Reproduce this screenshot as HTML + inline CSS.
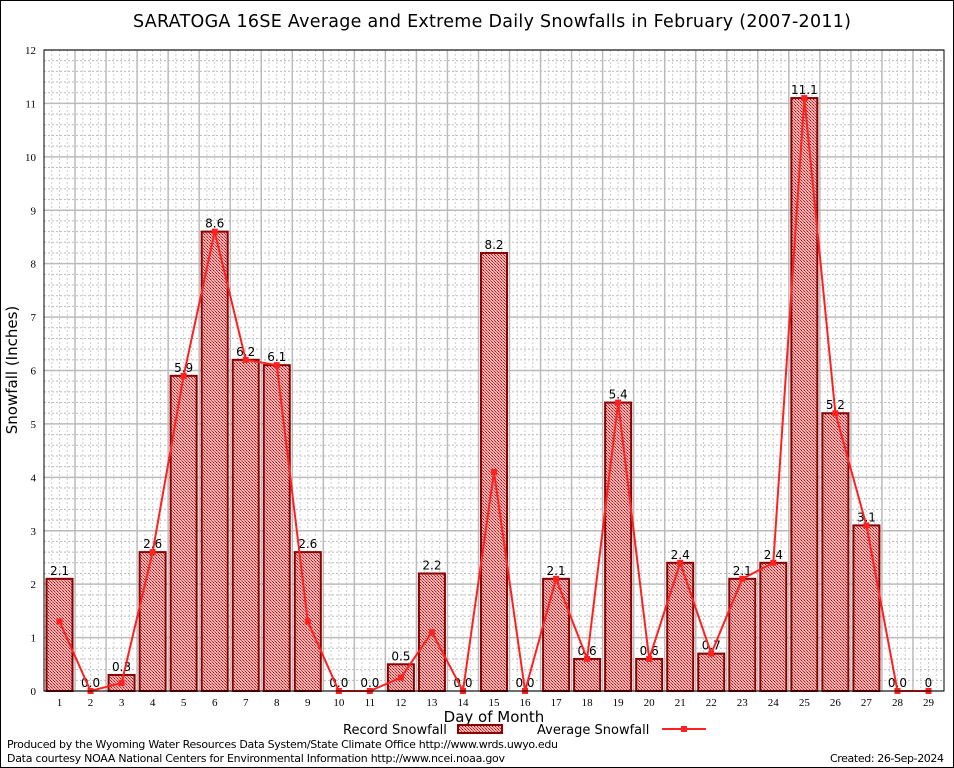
<!DOCTYPE html>
<html><head><meta charset="utf-8"><style>
body{margin:0;background:#fff;}
svg{display:block;font-family:"DejaVu Sans","Liberation Sans",sans-serif;}
</style></head><body>
<svg id="chart" width="954" height="768" viewBox="0 0 954 768" xmlns="http://www.w3.org/2000/svg">
<defs>
<pattern id="chk" width="3" height="3" patternUnits="userSpaceOnUse">
<rect width="3" height="3" fill="#eeb0b0"/><rect width="1" height="1" fill="#a01818"/><rect x="2" y="2" width="1" height="1" fill="#b83030"/><rect x="1" y="1" width="1" height="1" fill="#d06060"/>
</pattern>
</defs>
<rect x="0.5" y="0.5" width="953" height="767" fill="#fff" stroke="#000"/>
<text x="492" y="27" font-size="17.5" text-anchor="middle" textLength="718">SARATOGA 16SE Average and Extreme Daily Snowfalls in February (2007-2011)</text>
<g id="grid"></g>
<g id="bars"></g>
<g id="line"></g>
<g id="axes"></g>
<text x="17" y="370" font-size="15" text-anchor="middle" transform="rotate(-90 17 370)">Snowfall (Inches)</text>
<text x="494" y="722" font-size="15" text-anchor="middle">Day of Month</text>
<g>
<text x="343" y="734" font-size="13">Record Snowfall</text>
<rect x="458" y="725" width="44" height="8" fill="url(#chk)" stroke="#8b0000" stroke-width="2"/>
<text x="537" y="734" font-size="13">Average Snowfall</text>
<line x1="662" y1="729" x2="706" y2="729" stroke="#ff2020" stroke-width="2"/>
<rect x="681" y="726" width="6" height="6" fill="#ff2020"/>
</g>
<text x="7" y="748" font-size="11" textLength="551">Produced by the Wyoming Water Resources Data System/State Climate Office http://www.wrds.uwyo.edu</text>
<text x="7" y="762" font-size="11" textLength="498">Data courtesy NOAA National Centers for Environmental Information http://www.ncei.noaa.gov</text>
<text x="944" y="762" font-size="11" text-anchor="end" textLength="114">Created:  26-Sep-2024</text>
</svg>
<script>
const days=[1,2,3,4,5,6,7,8,9,10,11,12,13,14,15,16,17,18,19,20,21,22,23,24,25,26,27,28,29];
const recordValues=[2.1,0.0,0.3,2.6,5.9,8.6,6.2,6.1,2.6,0.0,0.0,0.5,2.2,0.0,8.2,0.0,2.1,0.6,5.4,0.6,2.4,0.7,2.1,2.4,11.1,5.2,3.1,0.0,0];
const recordLabels=["2.1","0.0","0.3","2.6","5.9","8.6","6.2","6.1","2.6","0.0","0.0","0.5","2.2","0.0","8.2","0.0","2.1","0.6","5.4","0.6","2.4","0.7","2.1","2.4","11.1","5.2","3.1","0.0","0"];
const averageValues=[1.3,0.0,0.15,2.6,5.9,8.6,6.2,6.1,1.3,0.0,0.0,0.25,1.1,0.0,4.1,0.0,2.1,0.6,5.4,0.6,2.4,0.7,2.1,2.4,11.1,5.2,3.1,0.0,0.0];
const yTicks=[0,1,2,3,4,5,6,7,8,9,10,11,12];

const NS="http://www.w3.org/2000/svg";
const L=44,R=944,T=50,B=691;
const yMax=12;
function yS(v){return B-(v/yMax)*(B-T);}
const step=(R-L)/29;
function xS(d){return L+step*(d-0.5);}
function mk(tag,attrs,parent,txt){const e=document.createElementNS(NS,tag);for(const k in attrs)e.setAttribute(k,attrs[k]);if(txt!==undefined)e.textContent=txt;parent.appendChild(e);return e;}
const grid=document.getElementById('grid'),bars=document.getElementById('bars'),line=document.getElementById('line'),axes=document.getElementById('axes');
for(let v=0.2;v<yMax;v+=0.2){if(Math.abs(v-Math.round(v))<0.01)continue;
const g=mk('line',{x1:L,x2:R,y1:yS(v),y2:yS(v),stroke:'#bbb','stroke-dasharray':'2,2','stroke-width':1},grid);

}
for(let i=0;i<29;i++){for(const f of [0.25,0.5,0.75]){const x=L+step*(i+f);
const g=mk('line',{x1:x,x2:x,y1:T,y2:B,stroke:'#ccc','stroke-dasharray':'2,2','stroke-width':1},grid);

}}
yTicks.forEach(v=>{const g=mk('line',{x1:L,x2:R,y1:yS(v),y2:yS(v),stroke:'#bbb','stroke-width':1.5},grid);


const t=mk('text',{x:L-8,y:yS(v)+4,'font-size':11,'text-anchor':'end','font-family':'Liberation Serif,serif'},axes,String(v));

});
for(let i=1;i<29;i++){const x=L+step*i;const g=mk('line',{x1:x,x2:x,y1:T,y2:B,stroke:'#bbb','stroke-width':1.5},grid);

}
days.forEach((d,i)=>{const v=recordValues[i];const bw=26;
if(v>0){const r=mk('rect',{x:xS(d)-bw/2,y:yS(v),width:bw,height:B-yS(v),fill:'url(#chk)',stroke:'#8b0000','stroke-width':2},bars);

}
const t=mk('text',{x:xS(d),y:yS(v)-4,'font-size':12,'text-anchor':'middle'},bars,recordLabels[i]);


const xl=mk('text',{x:xS(d),y:B+15,'font-size':11,'text-anchor':'middle','font-family':'Liberation Serif,serif'},axes,String(d));

});
const pts=days.map((d,i)=>xS(d)+','+yS(averageValues[i])).join(' ');
const pl=mk('polyline',{points:pts,fill:'none',stroke:'#ff2020','stroke-width':2},line);


days.forEach((d,i)=>{const c=mk('rect',{x:xS(d)-3,y:yS(averageValues[i])-3,width:6,height:6,fill:'#ff2020'},line);

});
const pb=mk('rect',{x:L,y:T,width:R-L,height:B-T,fill:'none',stroke:'#000','stroke-width':1},axes);


</script>
</body></html>
